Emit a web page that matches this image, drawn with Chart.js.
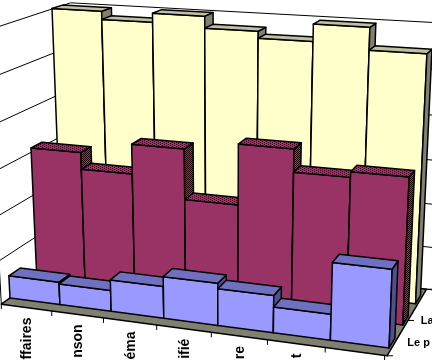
<!DOCTYPE html>
<html>
<head>
<meta charset="utf-8">
<style>
  html, body { margin: 0; padding: 0; background: #fff; overflow: hidden; }
  canvas { display: block; }
</style>
<script src="https://cdn.jsdelivr.net/npm/chart.js@4"></script>
</head>
<body>
<canvas id="chart" width="432" height="360"></canvas>
<script>
const categories = ['ffaires', 'nson', 'éma', 'ifié', 're', 't', ''];
const frontValues = [5.2, 4.8, 7.2, 9.4, 8.2, 5.7, 16.8];
const middleValues = [31, 27.2, 33.9, 22.6, 36, 31, 32.2];
const backValues = [60.1, 58.3, 60.3, 57.7, 56.2, 59.9, 55.1];
const seriesNames = ['Le p', 'La', ''];

// camera of the 3D view: vanishing points and scale per world unit
const VP_X = [-3835, -209];
const VP_Y = [225, 4500];
const VP_Z = [725, -213];
const ORIGIN = [10, 298];
const X_STEP = -0.01282;
const FULL_HEIGHT = -0.0605;

// depth of each row, front row first
const ROW_DEPTH = [0, 0.039, 0.078];
const ROW_WIDTH = 0.016;
const FLOOR_FRONT = -0.012;
const WALL_DEPTH = 0.107;
const FLOOR_RIGHT = 7.04;
const WALL_RIGHT = 7.6;

function dither(a, b, cells) {
  const c = document.createElement('canvas');
  c.width = cells[0].length;
  c.height = cells.length;
  const g = c.getContext('2d');
  cells.forEach((row, y) => [...row].forEach((cell, x) => {
    g.fillStyle = cell === '1' ? b : a;
    g.fillRect(x, y, 1, 1);
  }));
  return g.createPattern(c, 'repeat');
}

const ROW_COLORS = [
  { front: '#9999ff', top: '#7070c0', side: '#50508f' },
  {
    front: '#993366',
    top: dither('#993366', '#2a0a1c', ['1000', '0010']),
    side: dither('#993366', '#000000', ['10', '01']),
  },
  { front: '#ffffcc', top: '#c0c0a0', side: '#808070' },
];

// world position (X in categories, n from 0 to 1 of the value axis, t in depth) to screen
function toScreen(X, n, t) {
  const a = X_STEP * X;
  const v = FULL_HEIGHT * n;
  const w = 1 + a + v + t;
  return [
    (ORIGIN[0] + a * VP_X[0] + v * VP_Y[0] + t * VP_Z[0]) / w,
    (ORIGIN[1] + a * VP_X[1] + v * VP_Y[1] + t * VP_Z[1]) / w,
  ];
}

function polygon(ctx, points, fill, lineWidth = 1.5) {
  ctx.beginPath();
  points.forEach((p, i) => (i ? ctx.lineTo(p[0], p[1]) : ctx.moveTo(p[0], p[1])));
  ctx.closePath();
  if (fill) {
    ctx.fillStyle = fill;
    ctx.fill();
  }
  ctx.lineWidth = lineWidth;
  ctx.strokeStyle = '#000';
  ctx.stroke();
}

function line(ctx, a, b, lineWidth = 1) {
  ctx.beginPath();
  ctx.moveTo(a[0], a[1]);
  ctx.lineTo(b[0], b[1]);
  ctx.lineWidth = lineWidth;
  ctx.strokeStyle = '#000';
  ctx.stroke();
}

function drawPrism(ctx, X0, X1, n, t, colors) {
  const t1 = t + ROW_WIDTH;
  polygon(ctx, [toScreen(X0, 0, t), toScreen(X1, 0, t), toScreen(X1, n, t), toScreen(X0, n, t)], colors.front);
  polygon(ctx, [toScreen(X1, 0, t), toScreen(X1, 0, t1), toScreen(X1, n, t1), toScreen(X1, n, t)], colors.side);
  polygon(ctx, [toScreen(X0, n, t), toScreen(X1, n, t), toScreen(X1, n, t1), toScreen(X0, n, t1)], colors.top);
}

const view3d = {
  id: 'view3d',
  beforeDatasetsDraw(chart) {
    const { ctx, scales } = chart;
    const count = categories.length;
    ctx.save();
    ctx.lineJoin = 'round';

    // walls
    scales.y.ticks.forEach((tick) => {
      const n = scales.y.getDecimalForPixel(scales.y.getPixelForValue(tick.value));
      line(ctx, toScreen(0, n, FLOOR_FRONT), toScreen(0, n, WALL_DEPTH));
      line(ctx, toScreen(0, n, WALL_DEPTH), toScreen(WALL_RIGHT, n, WALL_DEPTH));
    });
    line(ctx, toScreen(0, 0, FLOOR_FRONT), toScreen(0, 1, FLOOR_FRONT));

    // floor
    polygon(ctx, [
      toScreen(0, 0, FLOOR_FRONT),
      toScreen(FLOOR_RIGHT, 0, FLOOR_FRONT),
      toScreen(FLOOR_RIGHT, 0, WALL_DEPTH),
      toScreen(0, 0, WALL_DEPTH),
    ], '#808070');

    // category ticks and labels
    ctx.fillStyle = '#000';
    for (let i = 0; i <= count; i++) {
      const p = toScreen(i, 0, FLOOR_FRONT);
      line(ctx, p, [p[0], p[1] + 5]);
    }
    ctx.font = 'bold 14px "Liberation Sans"';
    categories.forEach((label, i) => {
      const p = toScreen(i + 0.5, 0, FLOOR_FRONT);
      ctx.save();
      ctx.translate(p[0] + 1, p[1] + 10);
      ctx.rotate(-Math.PI / 2);
      ctx.textAlign = 'right';
      ctx.textBaseline = 'middle';
      ctx.fillText(label, 0, 0);
      ctx.restore();
    });

    // depth ticks and series labels
    [FLOOR_FRONT, (FLOOR_FRONT + WALL_DEPTH) / 2, WALL_DEPTH].forEach((t) => {
      const p = toScreen(FLOOR_RIGHT, 0, t);
      line(ctx, p, [p[0] + 6, p[1]]);
    });
    ctx.font = 'bold 11px "Liberation Sans"';
    ctx.textAlign = 'left';
    ctx.textBaseline = 'middle';
    chart.data.datasets.forEach((ds, i) => {
      const p = toScreen(FLOOR_RIGHT, 0, ROW_DEPTH[i] + ROW_WIDTH / 2);
      ctx.fillText(ds.label, p[0] + 13, p[1]);
    });
    ctx.restore();
  },
  beforeDatasetDraw(chart, args) {
    const { ctx, scales } = chart;
    const count = categories.length;
    ctx.save();
    ctx.lineJoin = 'round';
    args.meta.data.forEach((bar) => {
      const X0 = count * scales.x.getDecimalForPixel(bar.x - bar.width / 2);
      const X1 = count * scales.x.getDecimalForPixel(bar.x + bar.width / 2);
      const n = scales.y.getDecimalForPixel(bar.y);
      drawPrism(ctx, X0, X1, n, ROW_DEPTH[args.index], ROW_COLORS[args.index]);
    });
    ctx.restore();
    return false;
  },
};

new Chart(document.getElementById('chart'), {
  type: 'bar',
  data: {
    labels: categories,
    datasets: [
      { label: seriesNames[0], data: frontValues, backgroundColor: '#9999ff' },
      { label: seriesNames[1], data: middleValues, backgroundColor: '#993366' },
      { label: seriesNames[2], data: backValues, backgroundColor: '#ffffcc' },
    ],
  },
  options: {
    responsive: false,
    animation: false,
    layout: { padding: 0 },
    grouped: false,
    barPercentage: 1,
    categoryPercentage: 1,
    plugins: { legend: { display: false }, tooltip: { enabled: false } },
    scales: {
      x: { display: false },
      y: { display: false, min: 0, max: 60, ticks: { stepSize: 10 } },
    },
  },
  plugins: [view3d],
});
</script>
</body>
</html>
